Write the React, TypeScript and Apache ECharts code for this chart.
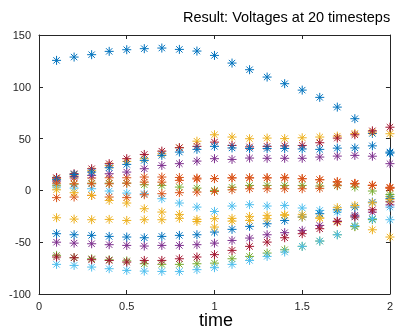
import React, { useEffect, useRef } from "react";
import * as echarts from "echarts";

const times = [0.1, 0.2, 0.3, 0.4, 0.5, 0.6, 0.7, 0.8, 0.9, 1.0, 1.1, 1.2, 1.3, 1.4, 1.5, 1.6, 1.7, 1.8, 1.9, 2.0];

const xTicks = [0, 0.5, 1, 1.5, 2];
const yTicks = [-100, -50, 0, 50, 100, 150];

const v01 = [125.5, 128.7, 131, 134.2, 135.8, 136.8, 137.4, 136.1, 134.5, 130.3, 122.9, 116.5, 109.4, 103, 96.8, 89.8, 80.4, 69.2, 55, 37];
const v02 = [12, 12, 12, 12.2, 12.2, 12.9, 12.9, 12.5, 11.9, 11.3, 12.2, 12.2, 12.2, 12.5, 11.3, 10.3, 8, 6.4, 4.8, 2.6];
const v03 = [11, 15, 19, 24, 28, 30.6, 35.4, 41.2, 47.5, 53.7, 51.5, 49.9, 50.5, 50, 50.8, 51.5, 52.4, 55, 56.3, 54.7];
const v04 = [9, 13.5, 14.5, 16.1, 17.7, 20.9, 24.1, 25.8, 28.3, 30.6, 29.9, 31.2, 31, 31, 31, 32.2, 33.1, 33.8, 33, 25.8];
const v05 = [5, 6, 7, 7, 7, 5.5, 4.8, 3.2, 2.2, 0, 3, 4.8, 4.8, 4.8, 4.8, 4.2, 4.5, 3.2, -0.6, -6];
const v06 = [3.2, 2.2, 1.6, -0.6, -2.6, -3.2, -8, -12.2, -16.1, -20.3, -15.1, -13.8, -15.1, -14.5, -17, -19.3, -20.9, -25.1, -28.3, -28.3];
const v07 = [12.2, 16.1, 20.9, 25.8, 30.6, 34.7, 37.9, 41.2, 42.5, 46.6, 43.4, 42, 42.5, 43, 43.4, 46, 50.5, 53.7, 57.5, 61];
const v08 = [10.3, 15.4, 17.7, 21.9, 25.1, 29, 33.8, 37, 39.6, 42.5, 41, 40.5, 40.5, 40.5, 40, 39.6, 40.8, 41, 43, 36];
const v09 = [-7, -6.4, -4.8, -6.4, -7, -4.2, -3.2, -2.2, -1.6, -1, 0.6, 1.6, 1.6, 1.6, 1.6, 2, 5, 6.4, 4.8, 2];
const v10 = [-26.4, -27.7, -28.3, -28, -29, -28.3, -28.3, -27, -28, -27.3, -27, -25.1, -24.1, -23.5, -23.5, -26.7, -30.6, -34.7, -38, -45];
const v11 = [-50, -50.9, -51.5, -52.4, -53.1, -53.7, -53.1, -53.1, -52.4, -50.9, -48.3, -46, -42.8, -40.8, -38.6, -33.8, -29.6, -24, -21, -14];
const v12 = [-62.7, -65, -66, -67, -68, -70.8, -71.4, -71.4, -70.8, -70.2, -66, -63.7, -60.5, -57.3, -54, -48.9, -42.8, -35, -28, -4];
const v13 = [-71.4, -72.4, -74, -75.6, -77.2, -77.9, -78.2, -78.2, -76.5, -74.6, -71.4, -67.6, -63.7, -59.5, -54, -48.9, -42.8, -34, -27.3, -16.1];
const v14 = [-64.3, -65, -66.9, -67.6, -69.2, -67.6, -67.6, -66, -64.3, -62, -57.9, -54, -49.9, -45.7, -41.8, -37, -30, -25.7, -18.7, -11];
const v15 = [-41.8, -42.8, -43.4, -44.4, -45, -45.7, -44.4, -43.4, -42.8, -40.2, -37.6, -34.7, -32.2, -29, -25.7, -22.5, -18.7, -16.1, -11.3, -8];
const v16 = [7, 6.4, 6.4, 6.4, 7, 8, 8, 9.7, 11, 11.5, 12, 12, 12, 12, 11.3, 10.3, 8.5, 6.8, 5, 3];
const v17 = [0.6, -2.2, -4.8, -9.7, -12.2, -17.7, -20.9, -23.2, -30, -35.4, -29.6, -29, -27.3, -24, -25.7, -26.7, -16.7, -14.5, -12, -9];

const seriesValues = [v01, v02, v03, v04, v05, v06, v07, v08, v09, v10, v11, v12, v13, v14, v15, v16, v17];
const palette = ["#0072BD", "#D95319", "#EDB120", "#7E2F8E", "#77AC30", "#4DBEEE", "#A2142F"];

const titleText = "Result: Voltages at 20 timesteps";
const xName = "time";

const asterisk = "path://M5,0L5,10M0,5L10,5M1.46,1.46L8.54,8.54M1.46,8.54L8.54,1.46";
const axisColor = "#262626";
const font = "'Liberation Sans', Arial, Helvetica, sans-serif";

export default function App() {
  const ref = useRef<HTMLDivElement>(null);
  useEffect(() => {
    if (!ref.current) return;
    const chart = echarts.init(ref.current, null, { renderer: "svg" });
    const commonAxis = {
      axisLine: { show: true, onZero: false, lineStyle: { color: axisColor, width: 1 } },
      axisTick: { show: true, inside: true, length: 4, lineStyle: { color: axisColor, width: 1 } },
      splitLine: { show: false },
    };
    const labelStyle = { color: axisColor, fontSize: 11, fontFamily: font };
    chart.setOption({
      animation: false,
      grid: { left: 39, right: 4, top: 35, bottom: 41, containLabel: false },
      xAxis: [
        {
          type: "value", min: xTicks[0], max: xTicks[xTicks.length - 1], interval: 0.5, position: "bottom",
          ...commonAxis,
          axisLabel: { ...labelStyle, margin: 6 },
        },
        {
          type: "value", min: xTicks[0], max: xTicks[xTicks.length - 1], interval: 0.5, position: "top",
          ...commonAxis,
          axisLabel: { show: false },
        },
      ],
      yAxis: [
        {
          type: "value", min: yTicks[0], max: yTicks[yTicks.length - 1], interval: 50, position: "left",
          ...commonAxis,
          axisLabel: { ...labelStyle, margin: 8 },
        },
        {
          type: "value", min: yTicks[0], max: yTicks[yTicks.length - 1], interval: 50, position: "right",
          ...commonAxis,
          axisLabel: { show: false },
        },
      ],
      graphic: [
        {
          type: "text", x: 183, y: 17,
          style: { text: titleText, fontSize: 14.5, fontFamily: font, fill: "#000", textAlign: "left", textVerticalAlign: "middle" },
        },
        {
          type: "text", x: 216, y: 320,
          style: { text: xName, fontSize: 18, fontFamily: font, fill: "#000", textAlign: "center", textVerticalAlign: "middle" },
        },
      ],
      series: seriesValues.map((vals, i) => {
        const c = palette[i % palette.length];
        return {
          type: "scatter",
          xAxisIndex: 0,
          yAxisIndex: 0,
          symbol: asterisk,
          symbolSize: 9,
          itemStyle: { color: c, borderColor: c, borderWidth: 1, opacity: 1 },
          emphasis: { disabled: true },
          data: times.map((t, j) => [t, vals[j]]),
        };
      }),
    });
    return () => chart.dispose();
  }, []);
  return <div ref={ref} style={{ position: "fixed", left: 0, top: 0, width: 396, height: 335 }} />;
}
